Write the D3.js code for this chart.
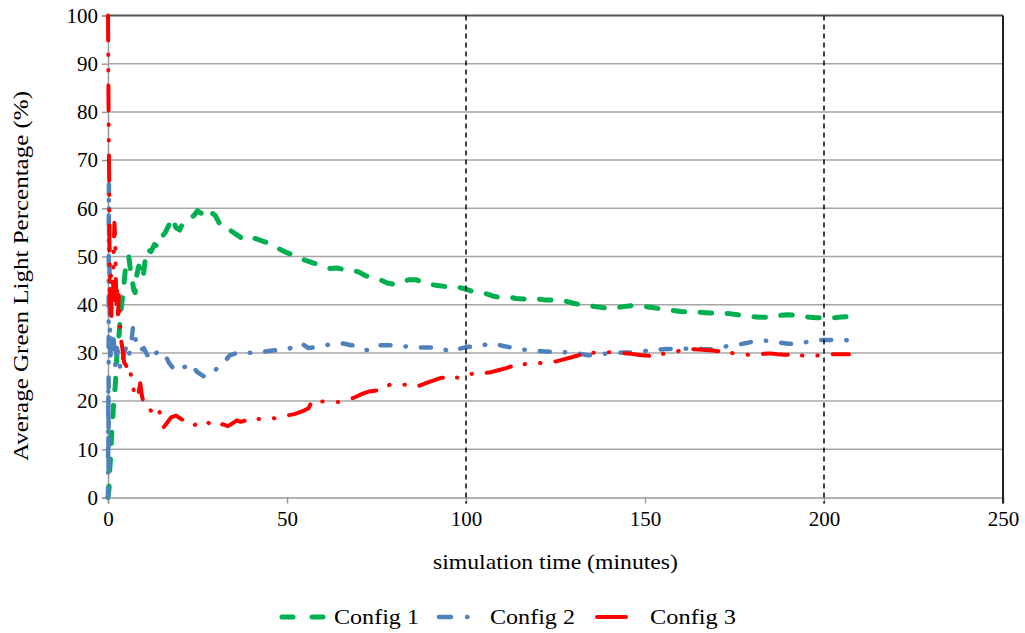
<!DOCTYPE html>
<html>
<head>
<meta charset="utf-8">
<script src="https://cdn.jsdelivr.net/npm/d3@7"></script>
<style>
  html, body { margin: 0; padding: 0; background: #fff; }
  svg { display: block; font-family: "Liberation Serif", "Times New Roman", serif; }
</style>
</head>
<body>
<svg id="chart" width="1025" height="633"></svg>
<script>
// Average green light percentage over simulated time, three signal configurations

const seriesNames = ["Config 1", "Config 2", "Config 3"];
const seriesColors = ["#00b050", "#4f81bd", "#ff0000"];

// Config 1: time (min) and percentage
const config1Time = [0,0.3,0.5,0.8,1.0,1.3,1.6,2.0,2.3,2.6,3.0,3.4,3.8,4.3,4.8,5.3,5.8,6.3,6.8,7.2,7.6,8.0,8.6,9.2,9.8,10.5,11,12,13,14,15,16,17,18,19,20,21,22,23,24,25,26,27,28,29,30,31,32,33,34,36,38,40,42,44,46,48,50,52,54,56,58,60,62,64,66,68,70,72,74,76,78,80,82,84,86,88,90,92,94,96,98,100,102,104,106,108,110,112,114,116,118,120,122,124,126,128,130,132,134,136,138,140,142,144,146,148,150,152,154,156,158,160,162,164,166,168,170,172,174,176,178,180,182,184,186,188,190,192,194,196,198,200,202,204,206,208,209];
const config1Value = [0,2,6,9,13,16,20,23,27,31,33,37,40,43,47,49.5,50,47,45,43,42.5,46,48,47,45.5,50,51.5,51,52.5,52,54,55,56.5,58,56,55.5,57,57.5,58,58.5,59.5,59,58.5,58,59,58.5,57,56,56,55.5,54.5,53.5,54,53.5,53,52.5,51.5,50.8,50.2,49.5,49,48.5,48,47.5,47.6,47.3,47.2,46.8,46,45.5,45.2,44.5,44.2,44.6,45.2,45.2,44.6,44.2,44,43.8,43.8,43.6,43.2,42.7,42.6,42.2,41.7,41.5,41.6,41.3,41.2,41.1,41.2,41,41,41,40.7,40.3,40,39.8,39.6,39.4,39.3,39.4,39.6,39.8,39.7,39.6,39.4,39.2,39,38.8,38.6,38.5,38.5,38.4,38.3,38.3,38.2,38.1,37.9,37.7,37.5,37.4,37.4,37.6,37.8,37.9,37.8,37.6,37.4,37.3,37.3,37.2,37.4,37.5,37.5,37.6];

// Config 2
const config2Time = [0,0.05,0.1,0.15,0.2,0.25,0.3,0.4,0.5,0.7,0.9,1.2,1.5,1.8,2.1,2.5,3,3.5,4,4.5,5,5.5,6,6.5,7,7.5,8,9,10,11,12,13,14,15,16,17,18,19,20,21,22,23,24,25,26,27,28,29,30,31,32,33,34,36,38,40,42,44,46,48,50,52,54,56,58,60,62,64,66,68,70,72,74,76,78,80,82,84,86,88,90,92,94,96,98,100,102,104,106,108,110,112,114,116,118,120,122,124,126,128,130,132,134,136,138,140,142,144,146,148,150,152,154,156,158,160,162,164,166,168,170,172,174,176,178,180,182,184,186,188,190,192,194,196,198,200,202,204,206,208];
const config2Value = [0,10,23,5,45,65,55,50,36,28,33,30,34,30,27,31,29,26.5,28,30,31,29,30,32,35.5,34,31,30.5,31,29.5,30.5,29.5,30.5,30,29.5,28,27,27.5,27.8,27,27.2,27.8,26.8,26,25.5,25,25.5,26,26.5,27,28,28.6,29.5,30,30.2,30,30,30.3,30.5,30.6,30.7,31.3,32,31,31.2,31.4,31.8,32.1,31.9,31.6,31.4,30.6,30.6,31.6,31.6,31.6,31.4,31.3,31.2,31.1,31.1,31.1,30.7,30.2,30.8,31.2,31.3,31.5,31.8,32,31.5,31.2,30.8,30.7,30.5,30.4,30.3,30.2,30.2,30.1,30,29.8,29.5,29.6,29.8,29.9,30,30.1,30.1,30.2,30.4,30.6,30.7,30.8,30.8,30.8,30.9,31,30.8,30.7,30.9,31.3,31.5,31.7,32,32.3,32.5,32.5,32.4,32.1,31.9,31.9,32.1,32.4,32.6,32.7,32.7,32.6,32.6,32.6];

// Config 3
const config3Time = [0,0.05,0.1,0.15,0.2,0.25,0.3,0.35,0.4,0.45,0.5,0.6,0.7,0.8,0.9,1.0,1.2,1.4,1.6,1.8,2.0,2.2,2.4,2.6,2.8,3.0,3.3,3.6,4,4.5,5,5.5,6,6.5,7,7.5,8,8.5,9,9.5,10,11,12,13,14,15,15.6,16.5,17.6,19,20,21,22,23,24,25,26,27,28,29,30,31,32,33.5,35,36,37,38.5,40,42,44,46,48,50,52,54,56,57,59,61,63,65,67,69,71,73,75,77,79,81,83,85,87,89,91,93,95,97,99,101,103,105,107,109,111,113,115,117,119,121,123,125,127,129,131,133,135,137,139,141,143,145,147,149,151,153,155,157,159,161,163,165,167,169,171,173,175,177,179,181,183,185,187,189,191,193,195,197,199,201,203,205,207];
const config3Value = [100,95,87,82,76,72,68,65,55,48,40,46,38,47,42,37,44,41,52,57,54,45,40,44,38,42,37,33,31,28,27.5,26.5,27,25,23,21,20.7,21.5,23.7,21,19.5,18.7,18,17.4,18.5,16.5,14.6,15.5,16.6,17,16.5,16,15.5,15.2,15,15.3,15.8,16,15.5,15,14.6,14.8,15.2,14.8,15.5,16,15.7,16,16.2,16.3,16.2,16.4,16.6,17,17.3,17.8,18.5,20,20,19.8,19.8,19.8,20.2,20.8,21.5,22,22.2,22.8,23.5,23.5,23.4,22.9,23.2,23.8,24.3,24.8,25,24.9,24.8,25.5,26,25.8,26,26.4,26.8,27.3,27.6,27.7,27.8,27.9,28,28.2,28.6,29,29.4,29.8,30,30.1,30.2,30.1,30,29.9,29.7,29.5,29.4,29.6,29.8,29.9,30.3,30.8,30.8,30.7,30.6,30.5,30.3,30.1,29.9,29.7,29.6,29.7,29.8,29.9,29.7,29.6,29.6,29.5,29.4,29.4,29.5,29.7,29.7,29.7,29.7];

// Axis ticks and marked reference times
const xTicks = [0, 50, 100, 150, 200, 250];
const yTicks = [0, 10, 20, 30, 40, 50, 60, 70, 80, 90, 100];
const markerTimes = [100, 200];

const series = [
  { name: seriesNames[0], color: seriesColors[0], time: config1Time, value: config1Value, dash: "11.5,15.5", width: 5 },
  { name: seriesNames[1], color: seriesColors[1], time: config2Time, value: config2Value, dash: "10,15,0.5,15", width: 4.5 },
  { name: seriesNames[2], color: seriesColors[2], time: config3Time, value: config3Value, dash: "25,14,0.5,15,0.5,15", width: 4 }
];

const svg = d3.select("#chart");
const plot = { left: 108, right: 1003, top: 15.5, bottom: 497.5 };

const x = d3.scaleLinear().domain([0, 250]).range([plot.left, plot.right]);
const y = d3.scaleLinear().domain([0, 100]).range([plot.bottom, plot.top]);

// horizontal gridlines
svg.append("g")
  .selectAll("line")
  .data(yTicks.filter(d => d > 0 && d < 100))
  .join("line")
  .attr("x1", plot.left).attr("x2", plot.right)
  .attr("y1", d => y(d)).attr("y2", d => y(d))
  .attr("stroke", "#a6a6a6").attr("stroke-width", 1.5);

// y axis
const yAxis = svg.append("g")
  .attr("transform", `translate(${plot.left},0)`)
  .call(d3.axisLeft(y).tickValues(yTicks).tickSize(6).tickPadding(4));
yAxis.select(".domain").attr("stroke", "#999").attr("stroke-width", 1.5);
yAxis.selectAll(".tick line").attr("stroke", "#999").attr("stroke-width", 1.5);
yAxis.selectAll(".tick text")
  .attr("font-family", "Liberation Serif").attr("font-size", 21).attr("fill", "#000");

// x axis
const xAxis = svg.append("g")
  .attr("transform", `translate(0,${plot.bottom})`)
  .call(d3.axisBottom(x).tickValues(xTicks).tickSize(6).tickPadding(8));
xAxis.select(".domain").attr("stroke", "#999").attr("stroke-width", 1.5);
xAxis.selectAll(".tick line").attr("stroke", "#999").attr("stroke-width", 1.5);
xAxis.selectAll(".tick text")
  .attr("font-family", "Liberation Serif").attr("font-size", 21).attr("fill", "#000");

// frame: top and right edges
svg.append("line")
  .attr("x1", plot.left).attr("x2", plot.right)
  .attr("y1", y(100)).attr("y2", y(100))
  .attr("stroke", "#555").attr("stroke-width", 2);
svg.append("line")
  .attr("x1", x(250)).attr("x2", x(250))
  .attr("y1", y(100)).attr("y2", plot.bottom + 6)
  .attr("stroke", "#222").attr("stroke-width", 2);

// data series
const line = d3.line().x(d => x(d[0])).y(d => y(d[1]));
series.forEach(s => {
  const pts = s.time.map((t, i) => [t, s.value[i]]);
  svg.append("path")
    .datum(pts)
    .attr("d", line)
    .attr("fill", "none")
    .attr("stroke", s.color)
    .attr("stroke-width", s.width)
    .attr("stroke-linecap", "round")
    .attr("stroke-linejoin", "round")
    .attr("stroke-dasharray", s.dash);
});

// dashed reference lines
svg.append("g")
  .selectAll("line")
  .data(markerTimes)
  .join("line")
  .attr("x1", d => x(d)).attr("x2", d => x(d))
  .attr("y1", y(100)).attr("y2", plot.bottom + 6)
  .attr("stroke", "#000").attr("stroke-width", 1.5)
  .attr("stroke-dasharray", "5,4");

// axis titles
svg.append("text")
  .attr("x", 555.5).attr("y", 569)
  .attr("text-anchor", "middle")
  .attr("font-size", 21)
  .attr("textLength", 245)
  .attr("lengthAdjust", "spacingAndGlyphs")
  .text("simulation time (minutes)");

svg.append("text")
  .attr("transform", "translate(28,276) rotate(-90)")
  .attr("text-anchor", "middle")
  .attr("font-size", 22)
  .attr("textLength", 370)
  .attr("lengthAdjust", "spacingAndGlyphs")
  .text("Average Green Light Percentage (%)");

// legend
const legendItems = [
  { s: series[0], x0: 280, x1: 325, tx: 334, w: 85 },
  { s: series[1], x0: 437, x1: 470, tx: 490, w: 85 },
  { s: series[2], x0: 595, x1: 628, tx: 650, w: 86 }
];
const legendY = 617;
const legend = svg.append("g");
legendItems.forEach((it, i) => {
  const dash = i === 0 ? "11,19" : (i === 1 ? "12,16,0.5,20" : null);
  legend.append("line")
    .attr("x1", it.x0 + 2).attr("x2", it.x1 - 2)
    .attr("y1", legendY).attr("y2", legendY)
    .attr("stroke", it.s.color)
    .attr("stroke-width", it.s.width)
    .attr("stroke-linecap", "round")
    .attr("stroke-dasharray", dash);
  legend.append("text")
    .attr("x", it.tx).attr("y", legendY + 7)
    .attr("font-size", 22)
    .attr("textLength", it.w)
    .attr("lengthAdjust", "spacingAndGlyphs")
    .text(it.s.name);
});
</script>
</body>
</html>
